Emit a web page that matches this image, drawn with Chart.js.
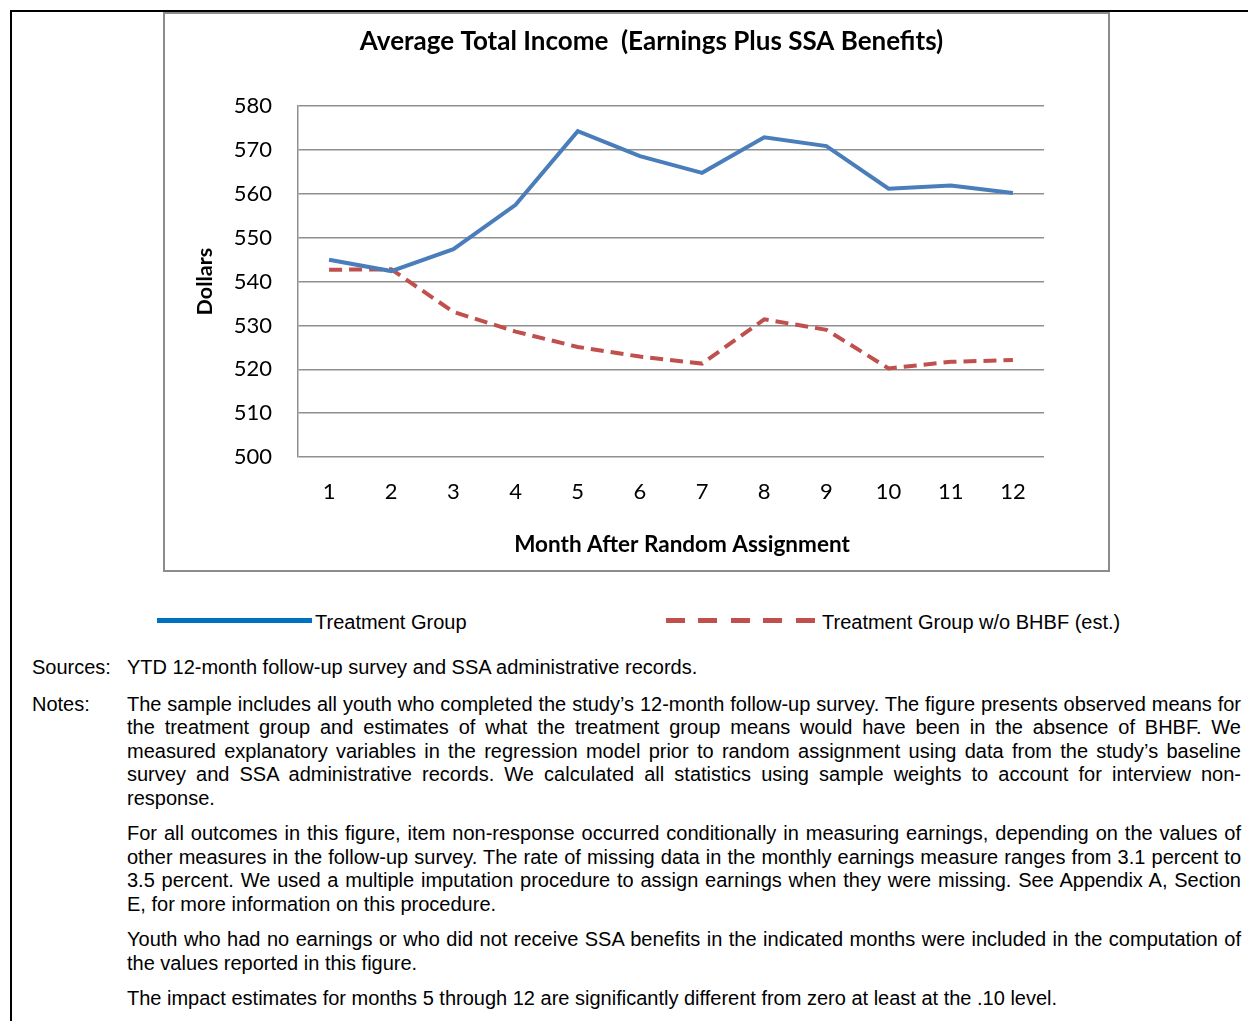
<!DOCTYPE html>
<html>
<head>
<meta charset="utf-8">
<script src="https://cdn.jsdelivr.net/npm/chart.js@4/dist/chart.umd.min.js"></script>
<style>
    body { margin: 0; background: #fff; width: 1248px; height: 1021px; position: relative; overflow: hidden; font-family: "Liberation Sans", Arial, sans-serif; color: #000; }
    .frameTop { position: absolute; left: 10px; top: 10px; width: 1238px; height: 2px; background: #000; }
    .frameLeft { position: absolute; left: 10px; top: 10px; width: 2px; height: 1011px; background: #000; }
    #box { position: absolute; left: 163px; top: 12px; width: 943px; height: 556px; border: 2px solid #8c8c8c; background: #fff; }
    .leg { position: absolute; top: 611px; font-size: 20px; line-height: 22px; }
    .legLine { position: absolute; top: 618px; height: 5px; }
    .notes { position: absolute; left: 32px; top: 656px; width: 1209px; font-size: 20px; line-height: 23.5px; }
    .row { display: flex; }
    .lbl { width: 95px; flex: none; }
    .txt { flex: 1; text-align: justify; }
    .txt p { margin: 0 0 12px 0; }
</style>
</head>
<body>
<div class="frameTop"></div>
<div class="frameLeft"></div>
<div id="box"><canvas id="incomeChart" width="943" height="556"></canvas></div>

<div class="legLine" style="left:157px;width:155px;background:#0070C0;"></div>
<div class="leg" style="left:315px;">Treatment Group</div>
<div class="legLine" style="left:666px;width:151px;background:repeating-linear-gradient(90deg,#C0504D 0 19px,transparent 19px 32.5px);"></div>
<div class="leg" style="left:822px;">Treatment Group w/o BHBF (est.)</div>

<div class="notes">
    <div class="row" style="margin-bottom:13px;"><div class="lbl">Sources:</div><div class="txt">YTD 12-month follow-up survey and SSA administrative records.</div></div>
    <div class="row"><div class="lbl">Notes:</div><div class="txt">
        <p>The sample includes all youth who completed the study’s 12-month follow-up survey. The figure presents observed means for the treatment group and estimates of what the treatment group means would have been in the absence of BHBF. We measured explanatory variables in the regression model prior to random assignment using data from the study’s baseline survey and SSA administrative records. We calculated all statistics using sample weights to account for interview non-response.</p>
        <p>For all outcomes in this figure, item non-response occurred conditionally in measuring earnings, depending on the values of other measures in the follow-up survey. The rate of missing data in the monthly earnings measure ranges from 3.1 percent to 3.5 percent. We used a multiple imputation procedure to assign earnings when they were missing. See Appendix A, Section E, for more information on this procedure.</p>
        <p>Youth who had no earnings or who did not receive SSA benefits in the indicated months were included in the computation of the values reported in this figure.</p>
        <p>The impact estimates for months 5 through 12 are significantly different from zero at least at the .10 level.</p>
    </div></div>
</div>

<script>
    // data
    const months = ["1", "2", "3", "4", "5", "6", "7", "8", "9", "10", "11", "12"];
    const treatment = [545.0, 542.4, 547.4, 557.5, 574.3, 568.6, 564.8, 572.9, 570.9, 561.2, 561.9, 560.2];
    const withoutBHBF = [542.7, 542.8, 533.1, 528.6, 525.1, 522.9, 521.3, 531.4, 529.0, 520.2, 521.7, 522.1];
    const yMin = 500;
    const yMax = 580;
    const yStep = 10;

    const chartFont = "Lato";
    const gridGray = "#8f8f8f";

    // the titles in the original sit a bit right of centre
    const shiftTitles = {
        id: "shiftTitles",
        afterLayout(chart) {
            const t = chart.titleBlock;
            if (t) { t.left += 47; t.right += 47; }
            const x = chart.scales.x;
            if (x && !x._shifted) {
                const orig = x.drawTitle;
                x.drawTitle = function () {
                    this.left += 11; this.right += 11;
                    orig.call(this);
                    this.left -= 11; this.right -= 11;
                };
                x._shifted = true;
            }
        }
    };

    new Chart(document.getElementById("incomeChart"), {
        type: "line",
        data: {
            labels: months,
            datasets: [
                {
                    label: "Treatment Group",
                    data: treatment,
                    borderColor: "#4A7EBB",
                    borderWidth: 4,
                    pointRadius: 0,
                    tension: 0,
                    fill: false
                },
                {
                    label: "Treatment Group w/o BHBF (est.)",
                    data: withoutBHBF,
                    borderColor: "#C0504D",
                    borderWidth: 4,
                    borderDash: [13, 7],
                    pointRadius: 0,
                    tension: 0,
                    fill: false
                }
            ]
        },
        options: {
            responsive: false,
            animation: false,
            layout: { padding: { left: 0, right: 64, top: 0, bottom: 0 } },
            plugins: {
                legend: { display: false },
                tooltip: { enabled: false },
                title: {
                    display: true,
                    text: "Average Total Income  (Earnings Plus SSA Benefits)",
                    color: "#000",
                    font: { family: chartFont, size: 26, weight: "bold", lineHeight: 1.2 },
                    padding: { top: 12, bottom: 49 }
                }
            },
            scales: {
                x: {
                    offset: true,
                    grid: { display: false, drawTicks: false },
                    border: { display: false },
                    ticks: { color: "#000", padding: 22, font: { family: chartFont, size: 22 } },
                    title: {
                        display: true,
                        text: "Month After Random Assignment",
                        color: "#000",
                        font: { family: chartFont, size: 22.5, weight: "bold", lineHeight: 1.2 },
                        padding: { top: 0, bottom: 12 }
                    },
                    afterFit: s => { s.height = 113; }
                },
                y: {
                    min: yMin,
                    max: yMax,
                    grid: { color: gridGray, lineWidth: 1.5, drawTicks: false },
                    border: { display: true, color: gridGray, width: 1.5 },
                    ticks: { stepSize: yStep, color: "#000", padding: 26, font: { family: chartFont, size: 22 } },
                    title: {
                        display: true,
                        text: "Dollars",
                        color: "#000",
                        font: { family: chartFont, size: 21.5, weight: "bold", lineHeight: 1.2 },
                        padding: { top: 27, bottom: 0 }
                    },
                    afterFit: s => { s.width = 133; }
                }
            }
        },
        plugins: [shiftTitles]
    });
</script>
</body>
</html>
